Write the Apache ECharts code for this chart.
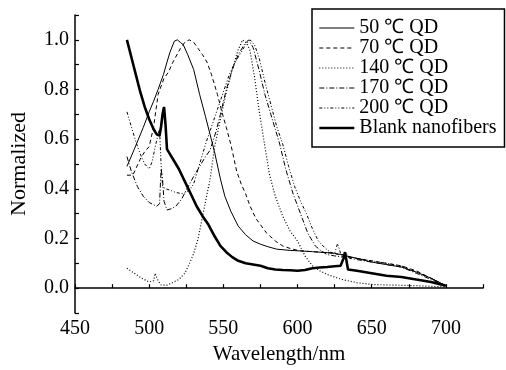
<!DOCTYPE html>
<html><head><meta charset="utf-8">
<script src="https://cdn.jsdelivr.net/npm/echarts@6/dist/echarts.min.js"></script>
<style>html,body{margin:0;padding:0;background:#fff}#c{width:506px;height:370px}</style>
</head><body><div id="c"></div>
<script>
var seriesNames = ['50 ℃ QD', '70 ℃ QD', '140 ℃ QD', '170 ℃ QD', '200 ℃ QD', 'Blank nanofibers'];
var xTickLabels = [450, 500, 550, 600, 650, 700];
var yTickLabels = [0.0, 0.2, 0.4, 0.6, 0.8, 1.0];

var qd50_x = [485,490,496,500,503,506,509.6,512,514,517,519,521,523,526,530,534,538,541,544,548,551,555,560,565,570,575,580,586,595,602,610,620,625,630,633,640,650,660,670,680,690,700];
var qd50_y = [0.49,0.56,0.647,0.71,0.753,0.80,0.86,0.91,0.95,0.995,1.0,0.99,0.98,0.94,0.88,0.78,0.69,0.62,0.55,0.44,0.37,0.31,0.25,0.215,0.19,0.177,0.167,0.157,0.152,0.15,0.147,0.143,0.14,0.135,0.13,0.12,0.105,0.095,0.085,0.065,0.04,0.01];

var qd70_x = [485,489,494,497,500,503,506,510,513,516,521,524,527,530,533,536,539,542,546,549,552,555,559,562,565,568,572,579,585,590,596,602,610,620,625,630,640,650,660,670,680,690,700];
var qd70_y = [0.455,0.455,0.52,0.55,0.57,0.65,0.78,0.845,0.87,0.91,0.965,0.99,1.0,0.99,0.965,0.94,0.91,0.86,0.78,0.71,0.647,0.58,0.47,0.42,0.38,0.33,0.28,0.223,0.19,0.17,0.158,0.15,0.147,0.143,0.14,0.13,0.12,0.11,0.1,0.09,0.07,0.04,0.01];

var qd140_x = [485,490,495,500,503,504,505,506,508,512,515,520,524,527,530,533,536,539,541,544,548,552,556,560,563,566,568,571,574,577,581,585,590,595,600,605,610,615,620,625,630,640,650,660,680,700];
var qd140_y = [0.08,0.06,0.04,0.025,0.03,0.06,0.065,0.03,0.013,0.012,0.02,0.035,0.06,0.097,0.14,0.2,0.29,0.38,0.435,0.567,0.68,0.79,0.88,0.96,1.0,0.985,0.955,0.85,0.72,0.607,0.46,0.37,0.29,0.23,0.19,0.13,0.09,0.07,0.055,0.045,0.035,0.022,0.015,0.013,0.01,0.005];

var qd170_x = [485,488,492,496,500,505,507,508,509,510,512,515,518,522,525,530,534,538,541,545,548,552,556,560,564,567,570,574,578,582,585,588,592,597,602,607,612,616,620,625,630,633,635,640,650,660,670,680,690,700];
var qd170_y = [0.53,0.47,0.41,0.37,0.345,0.33,0.34,0.48,0.44,0.35,0.315,0.32,0.33,0.36,0.395,0.45,0.49,0.53,0.555,0.63,0.7,0.8,0.88,0.94,0.98,1.0,0.97,0.88,0.78,0.7,0.64,0.58,0.48,0.38,0.30,0.22,0.17,0.15,0.135,0.13,0.125,0.14,0.12,0.115,0.105,0.095,0.085,0.06,0.035,0.01];

var qd200_x = [485,488,491,494,497,500,502,504,506,507,508,509,511,514,518,523,527,530,534,538,542,546,550,554,558,562,565,568,571,574,578,582,586,590,594,598,602,606,610,614,618,622,625,627,629,632,640,650,660,670,680,690,700];
var qd200_y = [0.71,0.65,0.59,0.54,0.50,0.48,0.51,0.567,0.62,0.64,0.5,0.41,0.40,0.395,0.385,0.38,0.395,0.42,0.5,0.58,0.65,0.72,0.79,0.86,0.91,0.95,0.98,1.0,0.98,0.93,0.83,0.74,0.65,0.58,0.49,0.41,0.35,0.30,0.24,0.19,0.165,0.145,0.14,0.18,0.14,0.13,0.12,0.11,0.1,0.09,0.065,0.04,0.01];

var blank_x = [485,488,491,494,497,500,503,505,507,508,509,510,511,512,514,517,520,524,528,532,536,540,544,548,552,556,560,565,570,575,580,585,590,595,600,605,610,615,620,625,629,631,632,633,634,640,645,650,655,660,670,680,690,700];
var blank_y = [1.00,0.93,0.86,0.79,0.73,0.68,0.64,0.62,0.615,0.65,0.70,0.73,0.66,0.56,0.54,0.51,0.48,0.43,0.38,0.33,0.29,0.255,0.21,0.17,0.145,0.125,0.11,0.10,0.095,0.09,0.08,0.075,0.073,0.072,0.07,0.073,0.08,0.083,0.085,0.088,0.09,0.12,0.145,0.11,0.075,0.07,0.065,0.06,0.055,0.05,0.045,0.035,0.025,0.01];

function zip(xs, ys){ return xs.map(function(x,i){ return [x, ys[i]]; }); }

var styles = [
  {width:1, type:'solid'},
  {width:1, type:[4,3]},
  {width:1.2, type:[1,2]},
  {width:1, type:[5,2,1,2]},
  {width:1, type:[3,2,1,2,1,2]},
  {width:2.6, type:'solid'}
];
var datas = [zip(qd50_x,qd50_y), zip(qd70_x,qd70_y), zip(qd140_x,qd140_y), zip(qd170_x,qd170_y), zip(qd200_x,qd200_y), zip(blank_x,blank_y)];

var font = "'Liberation Serif','Times New Roman',serif";
var chart = echarts.init(document.getElementById('c'), null, {renderer:'canvas'});
chart.setOption({
  animation: false,
  backgroundColor: '#fff',
  grid: {left: 74, right: 23, top: 15, bottom: 53},
  legend: {
    orient: 'vertical', left: 312, top: 9,
    padding: [9, 8, 9, 6], itemGap: 0, itemWidth: 35, itemHeight: 14,
    borderColor: '#000', borderWidth: 1.5,
    itemStyle: {opacity: 0},
    textStyle: {fontFamily: font, fontSize: 20, color: '#000', lineHeight: 18},
    data: seriesNames.map(function(n, i){
      return {name: n, itemStyle: {opacity: 0}, lineStyle: {color: '#000', width: styles[i].width, type: styles[i].type}};
    })
  },
  xAxis: {
    type: 'value', min: 450, max: 725, interval: 25,
    name: 'Wavelength/nm', nameLocation: 'middle', nameGap: 31,
    nameTextStyle: {fontFamily: font, fontSize: 21, color: '#000'},
    axisLine: {lineStyle: {color: '#000', width: 1.5}},
    axisTick: {inside: true, length: 4, lineStyle: {color: '#000', width: 1.2}},
    axisLabel: {fontFamily: font, fontSize: 20, color: '#000', margin: 6,
      formatter: function(v){ return xTickLabels.indexOf(Math.round(v)) >= 0 ? String(Math.round(v)) : ''; }},
    splitLine: {show: false}
  },
  yAxis: {
    type: 'value', min: -0.1, max: 1.1, interval: 0.1,
    name: 'Normalized', nameLocation: 'middle', nameGap: 45,
    nameTextStyle: {fontFamily: font, fontSize: 22, color: '#000'},
    axisLine: {lineStyle: {color: '#000', width: 1.5}},
    axisTick: {inside: true, length: 4, lineStyle: {color: '#000', width: 1.2}},
    axisLabel: {fontFamily: font, fontSize: 20, color: '#000', margin: 6,
      formatter: function(v){
        var r = Math.round(v*10)/10;
        for (var i=0;i<yTickLabels.length;i++){ if (Math.abs(yTickLabels[i]-r) < 1e-6) return yTickLabels[i].toFixed(1); }
        return '';
      }},
    splitLine: {show: false}
  },
  series: seriesNames.map(function(n, i){
    return {
      name: n, type: 'line', data: datas[i], symbol: 'none', smooth: false,
      lineStyle: {color: '#000', width: styles[i].width, type: styles[i].type},
      itemStyle: {color: '#000'}
    };
  })
});
</script></body></html>
